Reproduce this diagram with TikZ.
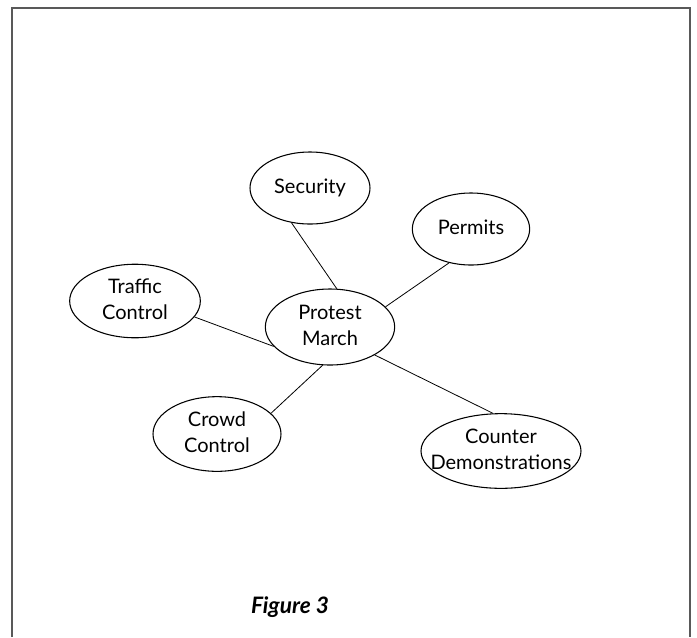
\documentclass[tikz,border=0pt]{standalone}
\usepackage{fontspec}
\setmainfont{Lato}
\usetikzlibrary{shapes.geometric}

\tikzset{
  topic/.style={draw, thick, ellipse, inner sep=0pt, align=center,
    font=\fontsize{15}{19.5}\selectfont},
  link/.style={semithick}
}
\newcommand{\squeeze}[1]{\makebox[0pt]{\begin{tabular}{@{}c@{}}#1\end{tabular}}}

\begin{document}
\begin{tikzpicture}[x=0.75pt, y=-0.75pt]
    \useasboundingbox (0,0) rectangle (697,637);
    \draw[black!65, line width=1.4pt] (12,637)--(12,8)--(690,8)--(690,637);

    \node[topic, minimum width=90pt, minimum height=54pt] (sec) at (310,188) {\squeeze{Security}};
    \node[topic, minimum width=88pt, minimum height=54pt] (perm) at (471,229) {\squeeze{Permits}};
    \node[topic, minimum width=98pt, minimum height=54pt] (traf) at (135,301) {\squeeze{Traffic\\Control}};
    \node[topic, minimum width=97pt, minimum height=57pt] (march) at (330,327) {\squeeze{Protest\\March}};
    \node[topic, minimum width=96pt, minimum height=56pt] (crowd) at (217,434) {\squeeze{Crowd\\Control}};
    \node[topic, minimum width=120pt, minimum height=56pt] (counter) at (501,451) {\squeeze{Counter\\Demonstrations}};

    \draw[link] (sec.242) -- (march.80);
    \draw[link] (perm.237) -- (march.20);
    \draw[link] (traf.345) -- (march.199);
    \draw[link] (crowd.21) -- (march.259);
    \draw[link] (counter.102) -- (march.328);

    \node[font=\fontsize{17}{20}\selectfont\bfseries\itshape] (cap) at (290,607) {Figure 3};
\end{tikzpicture}
\end{document}
